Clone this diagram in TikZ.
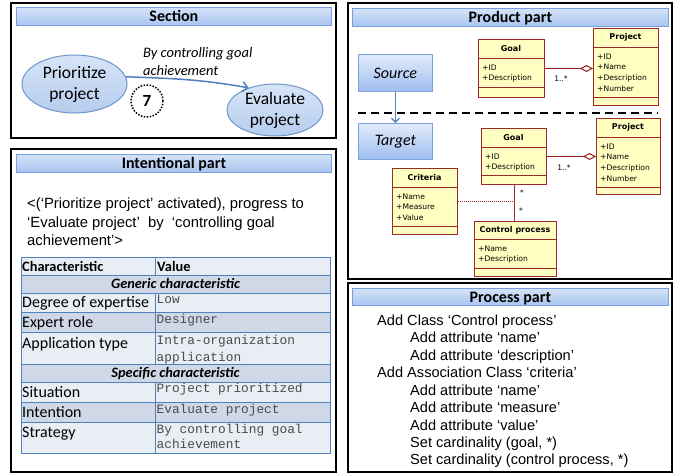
\documentclass[tikz,border=0pt]{standalone}
\usepackage{fontspec}
\setmainfont{Carlito}
\newfontfamily\arialf{Liberation Sans}
\newfontfamily\courf{Liberation Mono}
\newfontfamily\umlf{DejaVu Sans}
\usetikzlibrary{arrows.meta,shapes.geometric}

\definecolor{barTop}{RGB}{214,227,248}
\definecolor{barBot}{RGB}{168,196,240}
\definecolor{barLine}{RGB}{120,160,222}
\definecolor{ellTop}{RGB}{214,228,247}
\definecolor{ellBot}{RGB}{182,205,238}
\definecolor{ellLine}{RGB}{110,150,205}
\definecolor{arrBlue}{RGB}{79,129,189}
\definecolor{srcTop}{RGB}{226,235,251}
\definecolor{srcBot}{RGB}{158,190,240}
\definecolor{srcLine}{RGB}{125,163,222}
\definecolor{tabLine}{RGB}{79,129,189}
\definecolor{rowDark}{RGB}{208,216,232}
\definecolor{rowLight}{RGB}{233,237,244}
\definecolor{umlFill}{RGB}{255,255,194}
\definecolor{umlLine}{RGB}{160,40,40}
\definecolor{aggrRed}{RGB}{150,30,30}
\definecolor{valGray}{RGB}{75,75,75}

\tikzset{
  panel/.style={draw=black,line width=2pt},
  titlebar/.style={draw=barLine,line width=0.8pt,top color=barTop,bottom color=barBot,
    minimum width=315,minimum height=18,anchor=north west,inner sep=0},
  titletext/.style={font=\fontsize{16}{18}\selectfont\bfseries,inner sep=0,text height=10.3,text depth=0},
  ell/.style={ellipse,draw=ellLine,line width=1pt,top color=ellTop,bottom color=ellBot,
    align=center,inner sep=0,font=\fontsize{17.5}{21}\selectfont},
  flowarrow/.style={draw=arrBlue,line width=1.5pt,-{Straight Barb[length=5pt,width=10pt]}},
  srcbox/.style={draw=srcLine,line width=0.8pt,top color=srcTop,bottom color=srcBot,
    minimum width=74,minimum height=37,inner sep=0,anchor=north west,
    font=\fontsize{16}{18}\selectfont\itshape},
  umlbox/.style={draw=umlLine,line width=1pt,fill=umlFill,inner sep=0,anchor=north west},
  umlname/.style={font=\umlf\bfseries\fontsize{8}{10}\selectfont,inner sep=0},
  umlattr/.style={font=\umlf\fontsize{7.6}{10.7}\selectfont,inner sep=0,align=left,anchor=north west},
  umlsmall/.style={font=\umlf\fontsize{7.5}{9}\selectfont,inner sep=0},
  aggr/.style={draw=aggrRed,line width=1.6pt,-{Diamond[fill=white,line width=1pt,length=13pt,width=7pt]}},
  celltext/.style={font=\fontsize{16}{18}\selectfont,inner sep=0,anchor=base west},
  hdrtext/.style={font=\fontsize{14.4}{16}\selectfont\bfseries,inner sep=0,anchor=base west},
  grptext/.style={font=\fontsize{14.4}{16}\selectfont\bfseries\itshape,inner sep=0,anchor=base},
  valtext/.style={font=\courf\fontsize{12.8}{16}\selectfont,text=valGray,inner sep=0,anchor=base west},
  proctext/.style={font=\arialf\fontsize{14.6}{17}\selectfont,inner sep=0,anchor=base west},
  grid/.style={draw=tabLine,line width=0.8pt},
}

\newcommand\umlcls[9]{%
  \node[umlbox,minimum width={#4-#2},minimum height={#7-#3}] (#1) at (#2,#3) {};
  \draw[umlLine,line width=0.8pt] (#2,#5) -- (#4,#5) (#2,#6) -- (#4,#6);
  \node[umlname] (#1-t) at ({(#2+#4)/2},{(#3+#5)/2}) {#8};
  \node[umlattr] (#1-a) at ({#2+4},{#5+6.5}) {#9};
}

\begin{document}
\begin{tikzpicture}[x=1pt,y=-1pt]
\useasboundingbox (0,0) rectangle (679,474);
\fill[white] (0,0) rectangle (679,474);

% ---------------- Section panel
\draw[panel] (11,3) rectangle (336,138);
\node[titlebar] (secbar) at (16,7) {};
\node[titletext] (sectitle) at (secbar.center) {Section};
\node[ell,minimum width=105,minimum height=58] (prior) at (74.5,84) {Prioritize\\project};
\node[ell,minimum width=96,minimum height=52] (eval) at (275,110) {Evaluate\\project};
\draw[flowarrow] (prior.8) to[out=-2,in=170] (eval.140);
\node[font=\itshape\fontsize{14.5}{18}\selectfont,inner sep=0,anchor=base west] (lab1) at (143,57) {By controlling goal};
\node[font=\itshape\fontsize{14.5}{18}\selectfont,inner sep=0,anchor=base west] (lab2) at (143,75) {achievement};
\node[circle,draw=black,line width=1.5pt,dash pattern=on 1.5pt off 1.5pt,minimum size=32,inner sep=0,
      font=\bfseries\fontsize{17}{17}\selectfont] (seven) at (147,101) {7};

% ---------------- Intentional panel
\draw[panel] (11,149) rectangle (336,472);
\node[titlebar] (intbar) at (16,154) {};
\node[titletext] (inttitle) at (intbar.center) {Intentional part};
\node[proctext,font=\arialf\fontsize{14.8}{18}\selectfont] (i1) at (27,208.3) {<(‘Prioritize project’ activated), progress to};
\node[proctext,font=\arialf\fontsize{14.8}{18}\selectfont] (i2) at (27,227) {‘Evaluate project’\ \ by\ \ ‘controlling goal};
\node[proctext,font=\arialf\fontsize{14.8}{18}\selectfont] (i3) at (27,245.5) {achievement’>};

% table
\fill[rowLight] (21,257) rectangle (330,275);
\fill[rowDark]  (21,275) rectangle (330,293);
\fill[rowLight] (21,293) rectangle (330,312);
\fill[rowDark]  (21,312) rectangle (330,332);
\fill[rowLight] (21,332) rectangle (330,364);
\fill[rowDark]  (21,364) rectangle (330,382);
\fill[rowLight] (21,382) rectangle (330,402);
\fill[rowDark]  (21,402) rectangle (330,422);
\fill[rowLight] (21,422) rectangle (330,453);
\draw[grid] (21,257) rectangle (330,453);
\foreach \yy in {275,293,312,332,364,382,402,422} \draw[grid] (21,\yy) -- (330,\yy);
\draw[grid] (155,257) -- (155,275) (155,293) -- (155,364) (155,382) -- (155,453);

\node[hdrtext] (hc) at (22,271) {Characteristic};
\node[hdrtext] (hv) at (157,271) {Value};
\node[grptext] (gen) at (175.5,288.8) {Generic characteristic};
\node[celltext] (c1) at (22,307.5) {Degree of expertise};
\node[valtext] (v1) at (156.5,303) {Low};
\node[celltext] (c2) at (22,327) {Expert role};
\node[valtext] (v2) at (156.5,323) {Designer};
\node[celltext] (c3) at (22,348) {Application type};
\node[valtext] (v3a) at (156.5,344) {Intra-organization};
\node[valtext] (v3b) at (156.5,361) {application};
\node[grptext] (spec) at (175.5,377.8) {Specific characteristic};
\node[celltext] (c4) at (22,397) {Situation};
\node[valtext] (v4) at (156.5,392) {Project prioritized};
\node[celltext] (c5) at (22,417) {Intention};
\node[valtext] (v5) at (156.5,413) {Evaluate project};
\node[celltext] (c6) at (22,437) {Strategy};
\node[valtext] (v6a) at (156.5,433) {By controlling goal};
\node[valtext] (v6b) at (156.5,448) {achievement};

% ---------------- Product panel
\draw[panel] (348,3) rectangle (672,279);
\node[titlebar,minimum width=316] (prodbar) at (352,8) {};
\node[titletext] (prodtitle) at (prodbar.center) {Product part};
\node[srcbox] (src) at (358,54) {Source};
\node[srcbox,minimum height=36] (tgt) at (358,123) {Target};
\draw[draw=arrBlue,line width=1.2pt,-{Straight Barb[length=4pt,width=8pt]}] (src.south) -- (tgt.north);
\coordinate (dashL) at (358,113);
\coordinate (dashR) at (658,113);
\draw[black,line width=2.5pt,dash pattern=on 8pt off 5pt] (dashL) -- (dashR);

\umlcls{goalA}{478}{39}{544}{58}{87}{97}{Goal}{+ID\\+Description}
\umlcls{projA}{593}{28}{658}{47}{97}{105}{Project}{+ID\\+Name\\+Description\\+Number}
\umlcls{goalB}{481}{128}{546}{147}{175}{184}{Goal}{+ID\\+Description}
\umlcls{projB}{596}{118}{660}{137}{187}{194}{Project}{+ID\\+Name\\+Description\\+Number}
\umlcls{crit}{392}{168}{457}{187}{226}{234}{Criteria}{+Name\\+Measure\\+Value}
\umlcls{ctrl}{474}{221}{556}{239}{268}{276}{Control process}{+Name\\+Description}

\draw[aggr] (goalA.east) -- (goalA.east -| projA.west);
\draw[aggr] (goalB.east) -- (goalB.east -| projB.west);
\node[umlsmall] (mA) at (561,79) {1..*};
\node[umlsmall] (mB) at (564,168) {1..*};
\draw[umlLine,line width=1pt] (goalB.south) -- (goalB.south |- ctrl.north);
\node[umlsmall] (s1) at (522,193) {*};
\node[umlsmall] (s2) at (521,211) {*};
\draw[umlLine,line width=0.8pt,dash pattern=on 1pt off 1pt] (crit.east) -- (crit.east -| goalB.south);

% ---------------- Process panel
\draw[panel] (348,283) rectangle (672,472);
\node[titlebar,minimum width=316,minimum height=17] (procbar) at (352,288) {};
\node[titletext] (proctitle) at (procbar.center) {Process part};
\node[proctext] (p1) at (377,325) {Add Class ‘Control process’};
\node[proctext] (p2) at (410,342.5) {Add attribute ‘name’};
\node[proctext] (p3) at (410,360) {Add attribute ‘description’};
\node[proctext] (p4) at (377,377.5) {Add Association Class ‘criteria’};
\node[proctext] (p5) at (410,395) {Add attribute ‘name’};
\node[proctext] (p6) at (410,412.5) {Add attribute ‘measure’};
\node[proctext] (p7) at (410,430) {Add attribute ‘value’};
\node[proctext] (p8) at (410,447) {Set cardinality (goal, *)};
\node[proctext] (p9) at (410,464) {Set cardinality (control process, *)};
\end{tikzpicture}
\end{document}
